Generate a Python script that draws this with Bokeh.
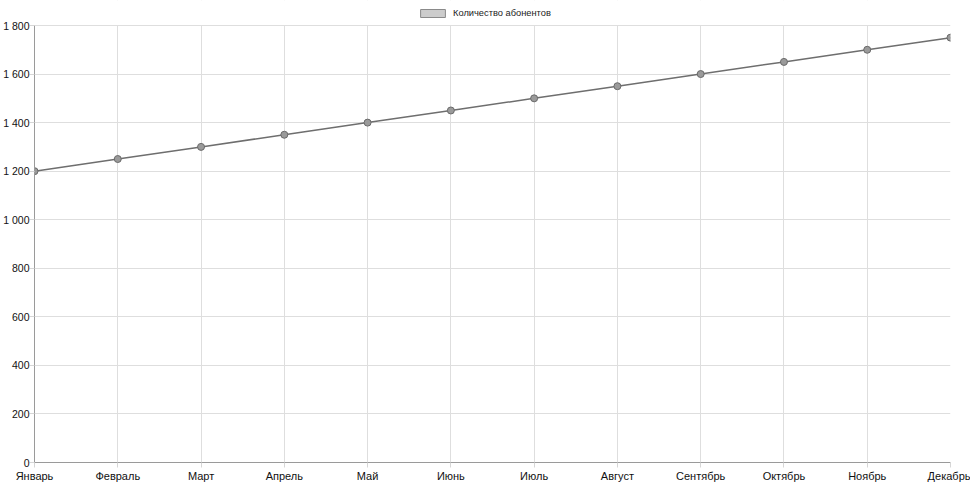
from bokeh.plotting import figure
from bokeh.models import (Range1d, SingleIntervalTicker, FixedTicker, CustomJSTickFormatter,
                          Legend, LegendItem, ColumnDataSource, BoxAnnotation)
from bokeh.embed import file_html
from bokeh.resources import INLINE

months = ["Январь", "Февраль", "Март", "Апрель", "Май", "Июнь", "Июль",
          "Август", "Сентябрь", "Октябрь", "Ноябрь", "Декабрь"]
subscribers = [1200, 1250, 1300, 1350, 1400, 1450, 1500, 1550, 1600, 1650, 1700, 1750]
series_name = "Количество абонентов"
y_max = 1800
y_step = 200

FONT = "Liberation Sans"
xs = list(range(len(months)))
src = ColumnDataSource(dict(x=xs, y=subscribers))

# frame spans from the canvas top (y=0) to 462px; the 1800 line sits 25px below the top
frame_h, top_gap = 462, 25
y_top = y_max * frame_h / (frame_h - top_gap)

p = figure(width=970, height=486, output_backend="svg", toolbar_location=None,
           x_range=Range1d(0, len(months) - 1), y_range=Range1d(0, y_top),
           min_border_left=34, min_border_right=20, min_border_top=0, min_border_bottom=24)
p.outline_line_color = None

p.xgrid.ticker = FixedTicker(ticks=xs)
p.xgrid.grid_line_color = "#dedede"
p.ygrid.grid_line_color = "#dedede"

# white band above the top gridline (hides the grid above the chart area, holds the legend)
band = BoxAnnotation(bottom=y_max + 2, fill_color="white", fill_alpha=1, line_color=None,
                     level="underlay")
p.add_layout(band)

p.line("x", "y", source=src, line_color="#6e6e6e", line_width=1.5)
p.scatter("x", "y", source=src, size=7, fill_color="#9a9a9a", line_color="#6a6a6a", line_width=1)

# legend swatch renderer (one non-drawable row so the legend swatch gets its colours)
nan = float("nan")
swatch_src = ColumnDataSource(dict(l=[nan], r=[nan], t=[nan], b=[nan]))
dummy = p.quad(left="l", right="r", top="t", bottom="b", source=swatch_src,
               fill_color="#cccccc", line_color="#8a8a8a")
legend = Legend(items=[LegendItem(label=series_name, renderers=[dummy])],
                orientation="horizontal", location=(383, 444),
                glyph_width=31, glyph_height=10, label_text_font=FONT, label_text_font_size="9.3px",
                label_text_color="#222222", label_height=10,
                label_standoff=5, padding=0, margin=0, spacing=0, border_line_color=None,
                background_fill_alpha=0)
p.add_layout(legend, "center")

for ax in (p.xaxis[0], p.yaxis[0]):
    ax.axis_line_color = "#9a9a9a"
    ax.major_tick_line_color = "#d6d6d6"
    ax.major_tick_in = 0
    ax.major_tick_out = 5
    ax.minor_tick_line_color = None
    ax.major_label_text_font = FONT
    ax.major_label_text_font_size = "11px"
    ax.major_label_text_color = "#111111"
    ax.major_label_standoff = 2

p.yaxis.major_label_text_font_size = "10.5px"
p.yaxis.major_label_standoff = 0
p.yaxis.bounds = (0, y_max)
p.xaxis.ticker = FixedTicker(ticks=xs)
p.xaxis.major_label_overrides = {i: m for i, m in enumerate(months)}
p.yaxis.ticker = SingleIntervalTicker(interval=y_step)
p.yaxis.formatter = CustomJSTickFormatter(
    code="var s = String(Math.round(tick)); return s.length > 3 ? s.slice(0, -3) + ' ' + s.slice(-3) : s;")

open("out.html", "w").write(file_html(p, INLINE))
